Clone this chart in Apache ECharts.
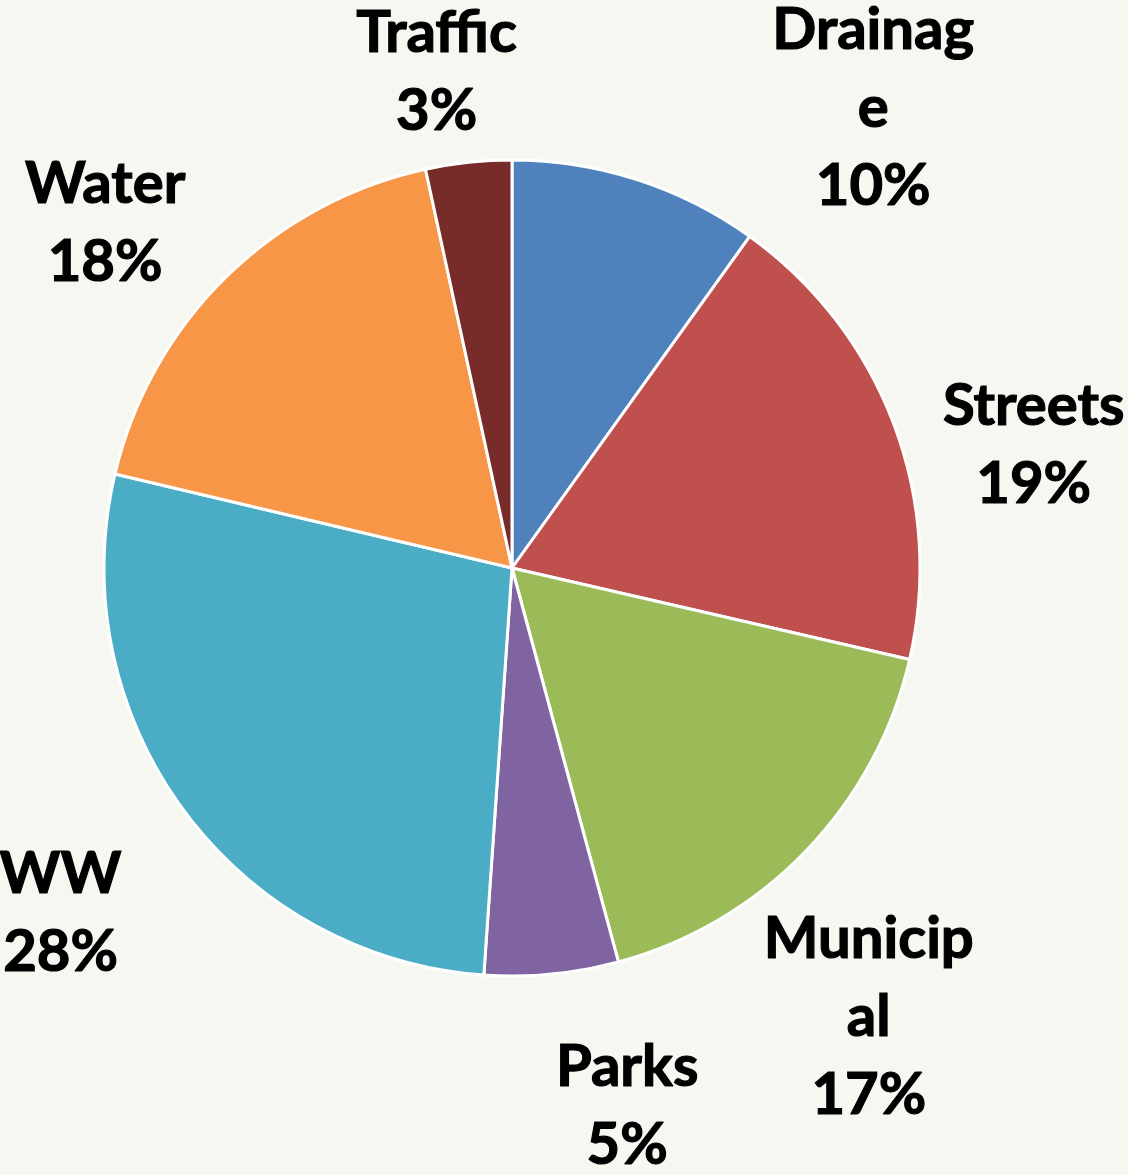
<!DOCTYPE html>
<html>
<head>
<meta charset="utf-8">
<script src="https://cdn.jsdelivr.net/npm/echarts@6/dist/echarts.min.js"></script>
<style>
html,body{margin:0;padding:0;background:#F7F7F2;}
#chart{width:1128px;height:1175px;}
</style>
</head>
<body>
<div id="chart"></div>
<script>
// Data (clockwise from 12 o'clock), percent shares
var categories = ['Drainage', 'Streets', 'Municipal', 'Parks', 'WW', 'Water', 'Traffic'];
var shares = [9.9, 18.7, 17.2, 5.3, 27.6, 17.9, 3.4];
var colors = ['#4F81BD', '#C0504D', '#9BBB59', '#8064A2', '#4BACC6', '#F79646', '#772C2A'];

// Label layout tweaks (pixels), applied after the radial placement
var labelNudgeX = [185, -1, -48, 55, 0, -13, -10];
var labelNudgeY = [70, 73, 65, -16, 17, 51, 58];

var CX = 512, CY = 568, R = 408, K = 150;

var chart = echarts.init(document.getElementById('chart'));
var option = {
  backgroundColor: '#F7F7F2',
  animation: false,
  series: [{
    type: 'pie',
    center: [CX, CY],
    radius: [0, R],
    startAngle: 90,
    clockwise: true,
    avoidLabelOverlap: false,
    data: categories.map(function (c, i) {
      return { name: c, value: shares[i], itemStyle: { color: colors[i] } };
    }),
    itemStyle: { borderColor: '#FFFFFF', borderWidth: 3 },
    label: {
      show: true,
      position: 'outside',
      fontFamily: 'Lato',
      fontWeight: 'bold',
      fontSize: 58,
      lineHeight: 78,
      color: '#000000',
      textBorderColor: '#000000',
      textBorderWidth: 1.2,
      width: 215,
      overflow: 'break',
      align: 'center',
      formatter: function (p) { return p.name + '\n' + Math.round(p.percent) + '%'; }
    },
    labelLine: { show: false, length: 0, length2: 0 },
    emphasis: { disabled: true },
    labelLayout: function (p) {
      var r = p.labelRect;
      var ax = p.align === 'left' ? r.x : (p.align === 'right' ? r.x + r.width : r.x + r.width / 2);
      var ay = r.y + r.height / 2;
      var dx = ax - CX, dy = ay - CY;
      var len = Math.sqrt(dx * dx + dy * dy) || 1;
      dx /= len; dy /= len;
      var i = p.dataIndex;
      return {
        x: CX + dx * (R + K) + labelNudgeX[i],
        y: CY + dy * (R + K) + labelNudgeY[i],
        align: 'center',
        verticalAlign: 'middle'
      };
    }
  }]
};
chart.setOption(option);
</script>
</body>
</html>
